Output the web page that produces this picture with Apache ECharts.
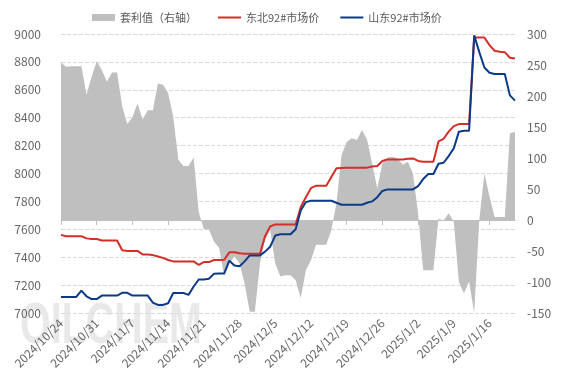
<!DOCTYPE html>
<html>
<head>
<meta charset="utf-8">
<script src="https://cdn.jsdelivr.net/npm/echarts@6/dist/echarts.min.js"></script>
<style>
  html, body { margin: 0; padding: 0; background: #fff; }
  #chart { width: 567px; height: 378px; }
</style>
</head>
<body>
<div id="chart"></div>
<script>
// 日期：2024/10/24 起逐日
const startDate = new Date(2024, 9, 24);
const dayCount = 90;
const dates = [];
for (let i = 0; i < dayCount; i++) {
  const d = new Date(startDate.getTime() + i * 86400000);
  dates.push(d.getFullYear() + '/' + (d.getMonth() + 1) + '/' + d.getDate());
}

// 套利值（右轴）
const spread = [
  254, 247, 248, 248, 248, 202, 231, 256, 242, 223,
  238, 238, 183, 155, 166, 188, 162, 177, 177, 220,
  218, 205, 167, 97, 87, 87, 101, 13, -15, -15,
  -35, -45, -90, -70, -59, -70, -103, -148, -148, -70,
  -32, -16, -70, -91, -89, -89, -97, -126, -81, -65,
  -40, -40, -40, -16, 27, 105, 126, 132, 129, 145,
  130, 91, 51, 91, 101, 102, 99, 89, 94, 75,
  11, -81, -81, -81, 2, -1, 11, -3, -100, -118,
  -99, -150, 0, 75, 38, 5, 5, 5, 140, 142
];

// 东北92#市场价
const northeast = [
  7560, 7550, 7550, 7550, 7550, 7535, 7530, 7530, 7520, 7520,
  7520, 7520, 7450, 7445, 7445, 7445, 7420, 7420, 7415, 7405,
  7395, 7380, 7370, 7370, 7370, 7370, 7370, 7345, 7365, 7365,
  7380, 7380, 7382, 7435, 7435, 7428, 7425, 7425, 7425, 7425,
  7550, 7620, 7635, 7635, 7635, 7635, 7635, 7760, 7830, 7895,
  7913, 7913, 7913, 7975, 8037, 8040, 8042, 8042, 8042, 8042,
  8042, 8050, 8054, 8090, 8101, 8101, 8101, 8101, 8105, 8108,
  8090, 8085, 8085, 8085, 8230, 8249, 8300, 8340, 8354, 8354,
  8354, 8975, 8975, 8975, 8920, 8880, 8873, 8870, 8830, 8825
];

// 山东92#市场价
const shandong = [
  7115, 7115, 7115, 7115, 7160, 7120, 7100, 7100, 7125, 7125,
  7125, 7125, 7145, 7145, 7125, 7125, 7125, 7125, 7075, 7058,
  7058, 7070, 7143, 7143, 7143, 7130, 7190, 7240, 7240, 7245,
  7282, 7284, 7284, 7375, 7340, 7335, 7370, 7413, 7413, 7413,
  7440, 7475, 7555, 7564, 7564, 7564, 7600, 7735, 7795, 7805,
  7805, 7805, 7805, 7805, 7790, 7776, 7776, 7776, 7776, 7776,
  7790, 7800, 7830, 7875, 7886, 7886, 7886, 7886, 7886, 7886,
  7910, 7960, 7996, 7996, 8070, 8077, 8125, 8180, 8300, 8307,
  8307, 8990, 8870, 8760, 8722, 8713, 8713, 8713, 8560, 8522
];

const fontFamily = "'Microsoft YaHei', 'Noto Sans CJK SC', sans-serif";

const chartDom = document.getElementById('chart');
const myChart = echarts.init(chartDom);

const option = {
  animation: false,
  textStyle: { fontFamily: fontFamily },
  legend: {
    left: 87,
    top: 7,
    itemWidth: 23,
    itemHeight: 7,
    itemGap: 20,
    textStyle: { color: '#595959', fontSize: 11, fontFamily: fontFamily },
    data: [
      { name: '套利值（右轴）', icon: 'rect' },
      { name: '东北92#市场价', itemStyle: { opacity: 0 } },
      { name: '山东92#市场价', itemStyle: { opacity: 0 } }
    ]
  },
  grid: {
    left: 61,
    right: 52,
    top: 34,
    bottom: 65
  },
  graphic: [
    {
      type: 'text',
      left: 20,
      top: 298,
      z: -1,
      scaleX: 0.68,
      style: {
        text: 'OILCHEM',
        font: 'bold 58px "Liberation Sans", sans-serif',
        fill: 'rgba(200,200,200,0.4)'
      }
    }
  ],
  xAxis: {
    type: 'category',
    boundaryGap: false,
    data: dates,
    axisLine: { lineStyle: { color: '#bfbfbf' } },
    axisTick: { show: true, interval: 6, length: 5, lineStyle: { color: '#bfbfbf' } },
    axisLabel: {
      interval: 6,
      rotate: 45,
      color: '#666',
      fontSize: 12,
      margin: 8
    },
    splitLine: { show: false }
  },
  yAxis: [
    {
      type: 'value',
      min: 7000,
      max: 9000,
      interval: 200,
      axisLine: { show: false },
      axisTick: { show: false },
      axisLabel: { color: '#666', fontSize: 12, margin: 20, formatter: (v) => String(v) },
      splitLine: { show: true, lineStyle: { type: 'dashed', color: '#d9d9d9' } }
    },
    {
      type: 'value',
      min: -150,
      max: 300,
      interval: 50,
      axisLine: { show: false },
      axisTick: { show: false },
      axisLabel: { color: '#666', fontSize: 12, margin: 12 },
      splitLine: { show: false }
    }
  ],
  series: [
    {
      name: '套利值（右轴）',
      type: 'line',
      yAxisIndex: 1,
      data: spread,
      symbol: 'none',
      lineStyle: { width: 0 },
      itemStyle: { color: '#bfbfbf' },
      areaStyle: { color: '#bfbfbf', opacity: 1 },
      z: 1
    },
    {
      name: '东北92#市场价',
      type: 'line',
      data: northeast,
      symbol: 'none',
      itemStyle: { color: '#d42f27' },
      lineStyle: { width: 2, color: '#d42f27' },
      z: 3
    },
    {
      name: '山东92#市场价',
      type: 'line',
      data: shandong,
      symbol: 'none',
      itemStyle: { color: '#0c3a88' },
      lineStyle: { width: 2, color: '#0c3a88' },
      z: 4
    }
  ]
};

myChart.setOption(option, true);
</script>
</body>
</html>
